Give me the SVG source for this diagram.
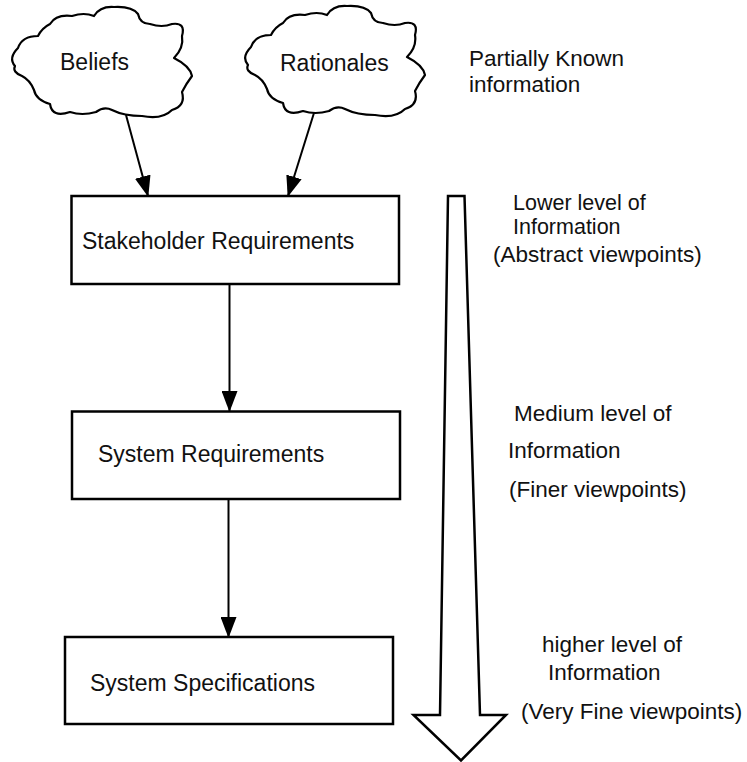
<svg xmlns="http://www.w3.org/2000/svg" xmlns:xlink="http://www.w3.org/1999/xlink" width="747" height="762" viewBox="0 0 747 762">
<style>
text{font-family:"Liberation Sans",Arial,sans-serif;fill:#111}
.n{font-size:23px}
.s{font-size:22.5px}
.t{font-size:21.5px}
.box{fill:#fff;stroke:#000;stroke-width:2.5}
.cloud{fill:#fff;stroke:#000;stroke-width:2.2;stroke-linejoin:round}
.edge{stroke:#000;stroke-width:2;fill:none;marker-end:url(#ah)}
</style>
<defs>
<marker id="ah" markerUnits="userSpaceOnUse" markerWidth="21" markerHeight="16" refX="20" refY="8" orient="auto">
<path d="M0,0 L21,8 L0,16 Z" fill="#000"/>
</marker>
<path id="cloudShape" d="M15,66 Q8,58 18,48 Q22,36 38,36 Q42,28 50,24 Q56,14 72,16 Q84,12 94,16 Q100,6 114,7 Q132,6 138,14 Q140,24 150,24 Q162,28 172,24 Q186,22 182,36 Q184,48 174,58 Q190,66 192,76 Q186,84 182,92 Q186,106 172,110 Q162,120 142,116 Q124,116 112,110 Q104,106 96,112 Q82,116 70,112 Q52,118 50,104 Q36,100 34,90 Q30,80 22,76 Q12,72 15,66 Z"/>
</defs>

<g id="beliefs">
<use xlink:href="#cloudShape" class="cloud"/>
<text class="n" x="60" y="70">Beliefs</text>
</g>
<g id="rationales">
<use xlink:href="#cloudShape" class="cloud" transform="translate(233,-1)"/>
<text class="n" x="280" y="71">Rationales</text>
</g>

<g id="partially-known">
<text class="s" x="469" y="66">Partially Known</text>
<text class="s" x="469" y="92">information</text>
</g>

<g id="stakeholder-requirements">
<rect class="box" x="71.5" y="196" width="327.5" height="88"/>
<text class="n" x="82" y="249">Stakeholder Requirements</text>
</g>

<g id="system-requirements">
<rect class="box" x="72" y="411.5" width="328" height="87.5"/>
<text class="n" x="98" y="462">System Requirements</text>
</g>

<g id="system-specifications">
<rect class="box" x="65" y="637" width="328" height="87"/>
<text class="n" x="90" y="691">System Specifications</text>
</g>

<g id="info-arrow">
<polygon points="448,196 464.5,196 480,715 506,715 461,760.5 413.5,715 440,715" fill="#fff" stroke="#000" stroke-width="2.5" stroke-linejoin="miter"/>
</g>

<g id="level-labels">
<text class="t" x="513" y="210">Lower level of</text>
<text class="t" x="513" y="234">Information</text>
<text class="s" x="493" y="262">(Abstract viewpoints)</text>
<text class="s" x="514" y="421">Medium level of</text>
<text class="s" x="508" y="458">Information</text>
<text class="s" x="509" y="497">(Finer viewpoints)</text>
<text class="s" x="542" y="652">higher level of</text>
<text class="s" x="548" y="680">Information</text>
<text class="s" x="521" y="719">(Very Fine viewpoints)</text>
</g>

<g id="connectors">
<line class="edge" x1="126" y1="115" x2="148" y2="196"/>
<line class="edge" x1="314" y1="113" x2="288" y2="196"/>
<line class="edge" x1="229.5" y1="284" x2="229.5" y2="411"/>
<line class="edge" x1="228.5" y1="499" x2="228.5" y2="637"/>
</g>
</svg>
